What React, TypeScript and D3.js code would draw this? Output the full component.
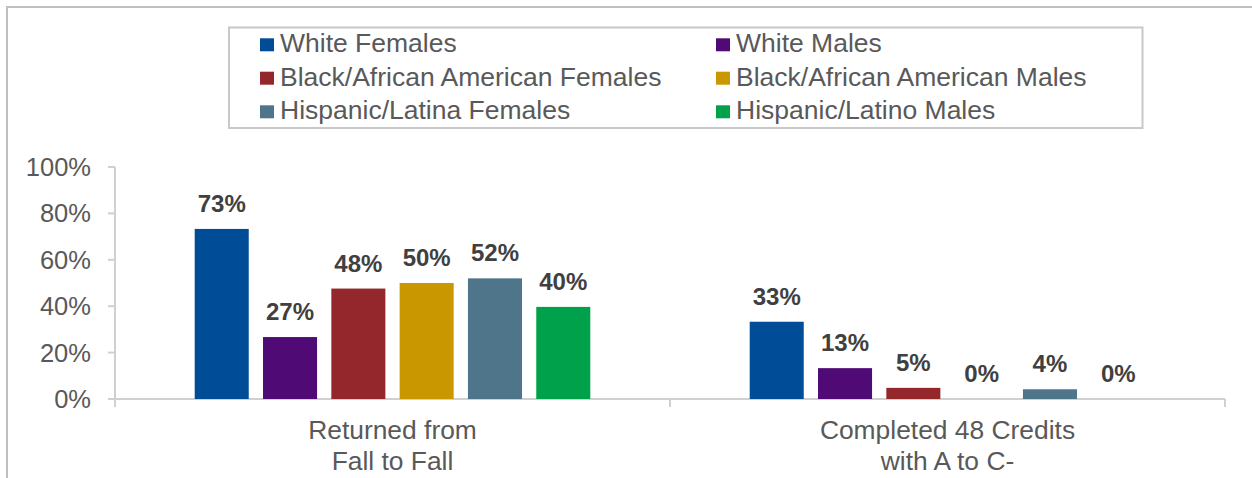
import React from "react";
import * as d3 from "d3";

const categories: string[][] = [
  ["Returned from", "Fall to Fall"],
  ["Completed 48 Credits", "with A to C-"],
];
const seriesNames = [
  "White Females",
  "White Males",
  "Black/African American Females",
  "Black/African American Males",
  "Hispanic/Latina Females",
  "Hispanic/Latino Males",
];
const seriesColors = ["#004C97", "#4F0A76", "#93272C", "#C99700", "#4F758B", "#00A14B"];
const returnedValues = [73.3, 26.7, 47.6, 50.0, 52.0, 39.7];
const completedValues = [33.3, 13.3, 4.8, 0, 4.2, 0];
const seriesValues = [returnedValues, completedValues];
const yTicks = [0, 20, 40, 60, 80, 100];

const W = 1252;
const H = 478;
const FONT = "'Liberation Sans', Arial, sans-serif";
const TEXT = "#595959";
const AXIS = "#d0d0d0";

export default function App() {
  const x0 = d3.scaleBand<number>().domain([0, 1]).range([115, 1225]).padding(0);
  const x1 = d3
    .scaleBand<number>()
    .domain(d3.range(seriesNames.length))
    .range([0, x0.bandwidth()])
    .paddingInner(0.209)
    .paddingOuter(1.167);
  const y = d3.scaleLinear().domain([0, 100]).range([399, 167]);

  const legendCols = [260, 716];
  const legendRows = [52.3, 85.7, 119.3];

  return (
    <div style={{ position: "absolute", left: 0, top: 0 }}>
      <svg width={W} height={H} style={{ display: "block", fontFamily: FONT }}>
        <rect x={0} y={0} width={W} height={H} fill="#fff" />
        {/* outer chart border */}
        <path d={`M7,${H + 5} L7,7 L${W + 5},7`} fill="none" stroke="#bfbfbf" strokeWidth={2} />
        {/* legend */}
        <rect x={229} y={27.5} width={913.5} height={100.5} fill="#fff" stroke="#c8c8c8" strokeWidth={2} />
        {seriesNames.map((name, i) => {
          const col = i % 2;
          const row = Math.floor(i / 2);
          const sx = legendCols[col];
          const by = legendRows[row];
          return (
            <g key={name}>
              <rect x={sx} y={by - 14} width={14} height={13} fill={seriesColors[i]} />
              <text x={sx + 20} y={by} fontSize={26.5} fill={TEXT}>
                {name}
              </text>
            </g>
          );
        })}
        {/* y axis */}
        <line x1={115} x2={115} y1={y(100)} y2={407} stroke={AXIS} strokeWidth={2} />
        {yTicks.map((t) => (
          <g key={t}>
            <line x1={108} x2={115} y1={y(t)} y2={y(t)} stroke={AXIS} strokeWidth={2} />
            <text x={91} y={y(t) + 9} textAnchor="end" fontSize={25.5} fill={TEXT}>
              {t}%
            </text>
          </g>
        ))}
        {/* x axis */}
        <line x1={115} x2={1225} y1={y(0)} y2={y(0)} stroke={AXIS} strokeWidth={2} />
        {[0, 1].map((c) => (
          <line
            key={"tk" + c}
            x1={(x0(c) as number) + x0.bandwidth()}
            x2={(x0(c) as number) + x0.bandwidth()}
            y1={y(0)}
            y2={407}
            stroke={AXIS}
            strokeWidth={2}
          />
        ))}
        {/* bars */}
        {seriesValues.map((vals, c) => (
          <g key={"c" + c} transform={`translate(${x0(c)},0)`}>
            {vals.map((v, s) => {
              const bx = x1(s) as number;
              return (
                <g key={s}>
                  <rect
                    x={bx}
                    y={y(v)}
                    width={x1.bandwidth()}
                    height={y(0) - y(v)}
                    fill={seriesColors[s]}
                  />
                  <text
                    x={bx + x1.bandwidth() / 2}
                    y={y(v) - 17}
                    textAnchor="middle"
                    fontSize={24}
                    fontWeight="bold"
                    fill="#404040"
                  >
                    {Math.round(v)}%
                  </text>
                </g>
              );
            })}
          </g>
        ))}
        {/* category labels */}
        {categories.map((lines, c) => (
          <text
            key={"cat" + c}
            x={(x0(c) as number) + x0.bandwidth() / 2}
            textAnchor="middle"
            fontSize={26.4}
            fill={TEXT}
          >
            {lines.map((l, i) => (
              <tspan key={i} x={(x0(c) as number) + x0.bandwidth() / 2} y={439.3 + i * 30.3}>
                {l}
              </tspan>
            ))}
          </text>
        ))}
      </svg>
    </div>
  );
}
